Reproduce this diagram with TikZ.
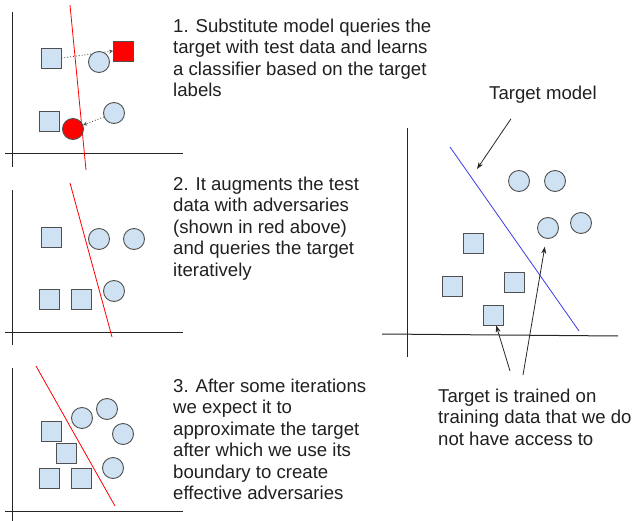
\documentclass[tikz,border=0pt]{standalone}
\usepackage{fontspec}
\setmainfont{Liberation Sans}
\usetikzlibrary{arrows.meta,backgrounds}
\definecolor{fillblue}{HTML}{CFE2F3}
\definecolor{edgegray}{HTML}{505050}
\definecolor{redline}{HTML}{FF0000}
\definecolor{blueline}{HTML}{3A3AE8}
\definecolor{txtcol}{HTML}{202020}
\begin{document}
\begin{tikzpicture}[x=1pt,y=-1pt,
  sq/.style={draw=edgegray, fill=fillblue, line width=0.9pt, minimum size=20pt, inner sep=0pt},
  ci/.style={circle, draw=edgegray, fill=fillblue, line width=0.9pt, minimum size=21pt, inner sep=0pt},
  redsq/.style={sq, fill=redline},
  redci/.style={ci, fill=redline},
  axis/.style={draw=black!85, line width=1pt},
  bound/.style={draw=redline, line width=0.8pt},
  dotarrow/.style={draw=edgegray, dotted, line width=0.9pt, -{Stealth[length=4pt,width=4pt]}},
  pointer/.style={draw=black!85, line width=0.8pt, -{Stealth[length=7pt,width=5pt]}},
  txt/.style={anchor=north west, align=left, inner sep=0pt, font=\fontsize{18.6}{21.5}\selectfont, text=txtcol}]
\useasboundingbox (0,0) rectangle (634,521);

% ---------- panel 1 ----------
\draw[axis] (12,12) -- (12,167);
\draw[axis] (5,154) -- (183,154);
\draw[bound] (70,5) -- (86,170);
\node[sq] (p1s1) at (51,58) {};
\node[sq] (p1s2) at (49.5,121.5) {};
\node[ci] (p1c1) at (99,62) {};
\node[ci] (p1c2) at (114,113) {};
\node[redsq] (p1r1) at (123.5,51) {};
\node[redci] (p1r2) at (73,129) {};
\begin{scope}[on background layer]
  \draw[dotarrow] (p1s1.east) -- (p1r1.west);
\end{scope}
\draw[dotarrow] (p1c2) -- (p1r2);
\node[txt] (t1) at (173,16.9) {\strut 1. Substitute model queries the\\target with test data and learns\\a classifier based on the target\\labels};

% ---------- panel 2 ----------
\draw[axis] (12,190) -- (12,345);
\draw[axis] (5,332) -- (183,332);
\draw[bound] (70,183) -- (112,337);
\node[sq] (p2s1) at (51,237) {};
\node[sq] (p2s2) at (49.5,299.5) {};
\node[sq] (p2s3) at (81.5,299.5) {};
\node[ci] (p2c1) at (99,239) {};
\node[ci] (p2c2) at (134,239) {};
\node[ci] (p2c3) at (114,291) {};
\node[txt] (t2) at (173,174.9) {\strut 2. It augments the test\\data with adversaries\\(shown in red above)\\and queries the target\\iteratively};

% ---------- panel 3 ----------
\draw[axis] (12,368) -- (12,521);
\draw[axis] (5,511) -- (183,511);
\draw[bound] (36,366) -- (115,506);
\node[sq] (p3s1) at (51,431) {};
\node[sq] (p3s2) at (66,453) {};
\node[sq] (p3s3) at (49.5,478) {};
\node[sq] (p3s4) at (81.5,478) {};
\node[ci] (p3c1) at (82,418) {};
\node[ci] (p3c2) at (107,409) {};
\node[ci] (p3c3) at (123,434) {};
\node[ci] (p3c4) at (113,468) {};
\node[txt] (t3) at (173,376.9) {\strut 3. After some iterations\\we expect it to\\approximate the target\\after which we use its\\boundary to create\\effective adversaries};

% ---------- target panel ----------
\draw[axis] (407,128) -- (407,357);
\draw[axis] (382,334) -- (618,336);
\draw[draw=blueline, line width=0.8pt] (450,147) -- (579,331);
\node[ci] (tc1) at (519,181) {};
\node[ci] (tc2) at (555,181) {};
\node[ci] (tc3) at (548,228) {};
\node[ci] (tc4) at (581,223) {};
\node[sq] (ts1) at (473,243) {};
\node[sq] (ts2) at (452,286) {};
\node[sq] (ts3) at (514,282) {};
\node[sq] (ts4) at (493,315) {};

\node[txt] (tmodel) at (489,83.9) {\strut Target model};
\coordinate (tmend) at (477,169);
\draw[pointer] ([shift={(-32,13)}]tmodel.south) -- (tmend);

\node[txt] (tnote) at (438,386.9) {\strut Target is trained on\\training data that we do\\not have access to};
\coordinate (tn1) at (510,371);
\coordinate (tn2) at (523,375);
\draw[pointer] (tn1) -- (ts4);
\draw[pointer, shorten >=8pt] (tn2) -- (tc3);
\end{tikzpicture}
\end{document}
